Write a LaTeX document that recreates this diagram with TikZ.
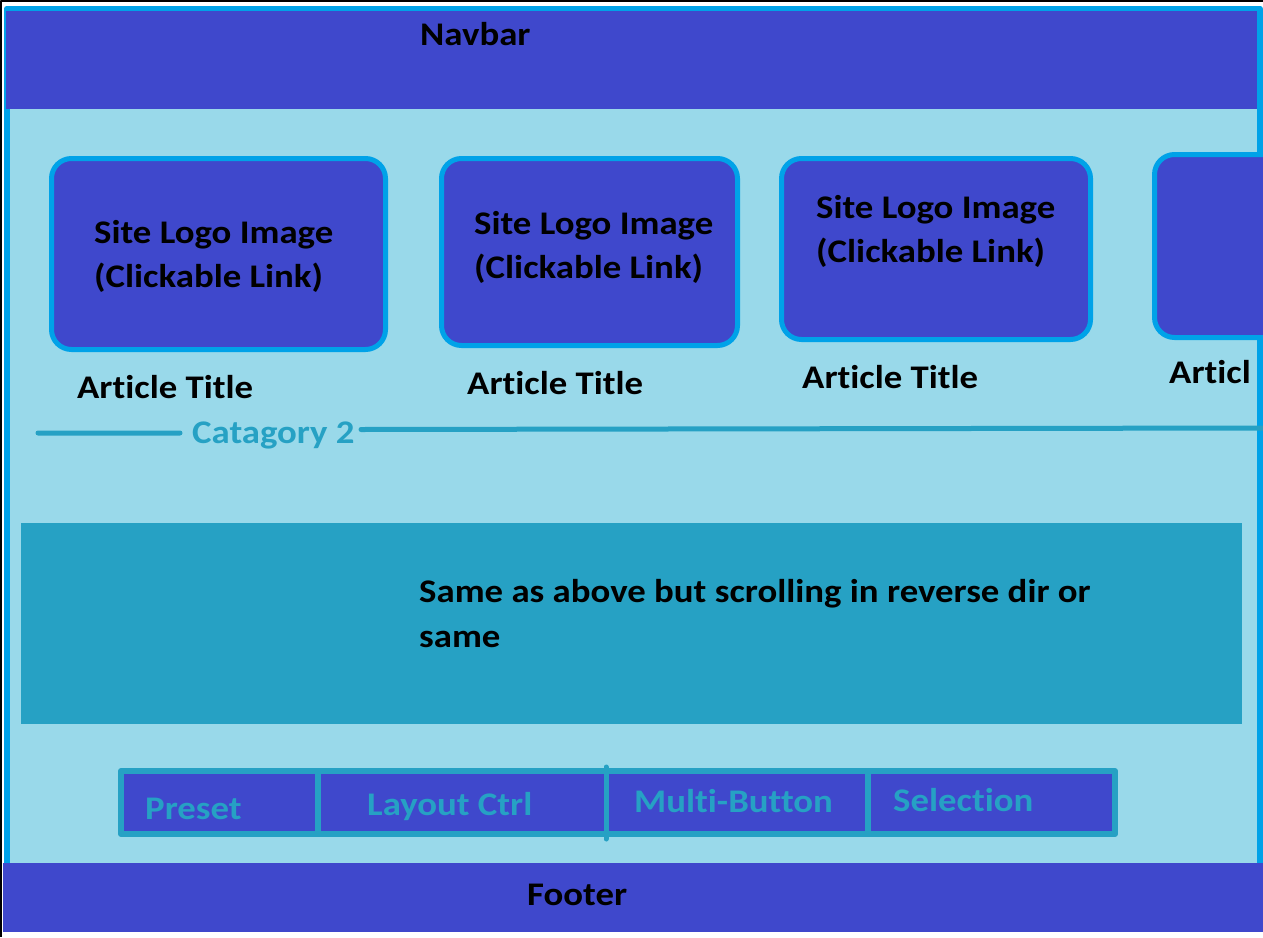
\documentclass[tikz,border=0pt]{standalone}
\usepackage{fontspec}
\setmainfont{Carlito}[FakeStretch=1.115,Ligatures=NoCommon]
\definecolor{navy}{HTML}{3F48CC}
\definecolor{sky}{HTML}{00A2E8}
\definecolor{pale}{HTML}{99D9EA}
\definecolor{tealc}{HTML}{26A1C4}

\begin{document}
\begin{tikzpicture}[x=1pt,y=-1pt,line join=round,font=\bfseries\fontsize{33}{40}\selectfont,
	card/.style={fill=navy,draw=sky,line width=5pt,rounded corners=20pt},
	txt/.style={anchor=base west,inner sep=0pt},
	btn/.style={txt,text=tealc}]
	\useasboundingbox[fill=white] (0,0) rectangle (1263,937);
	\draw[line width=1.5pt] (0.75,937) |- (1263,0.75);
	\draw[fill=pale,draw=sky,line width=6pt] (6.5,8.5) rectangle (1260,870);
	\fill[navy] (6,11) rectangle (1257,109);
	\node[txt] (navbar) at (420,45) {Navbar};
	\foreach \i/\xa/\ya/\xb/\yb/\tx/\ty/\ax/\ay in {1/51.5/158.5/385.5/349.5/94/243/77/398,2/441.5/158.5/737.5/345.5/474/234/467/394,3/781.5/158.5/1090.5/339.5/816/218/802/388}{
		\draw[card] (\xa,\ya) rectangle (\xb,\yb);
		\node[txt] (site\i) at (\tx,\ty) {Site Logo Image};
		\node[txt] (link\i) at (\tx,\ty+44) {(Clickable Link)};
		\node[txt] (title\i) at (\ax,\ay) {Article Title};
	}
	\begin{scope}
		\clip (0,0) rectangle (1263,937);
		\draw[card] (1154.5,154.5) rectangle (1300,337.5);
	\end{scope}
	\node[txt] (title4) at (1169,383) {Articl};
	\draw[tealc,line width=5pt,line cap=round] (38,433) -- (180,433) (361,429.5) -- (1270,428);
	\node[btn] (cat) at (192,443) {Catagory 2};
	\fill[tealc] (21,523) rectangle (1242,724);
	\node[txt] (same1) at (419,602) {Same as above but scrolling in reverse dir or};
	\node[txt] (same2) at (419,647) {same};
	\draw[fill=navy,draw=tealc,line width=6pt] (121,771) rectangle (1115,834);
	\draw[tealc,line width=6pt] (318,771) -- (318,834) (868,771) -- (868,834);
	\draw[tealc,line width=5pt,line cap=round] (606,767) -- (606,839);
	\node[btn] (preset) at (145,819) {Preset};
	\node[btn] (layout) at (367,815) {Layout Ctrl};
	\node[btn] (multi) at (634,812) {Multi-Button};
	\node[btn] (select) at (893,811) {Selection};
	\fill[navy] (3,863) rectangle (1263,932);
	\node[txt] (footer) at (527,905) {Footer};
\end{tikzpicture}
\end{document}
